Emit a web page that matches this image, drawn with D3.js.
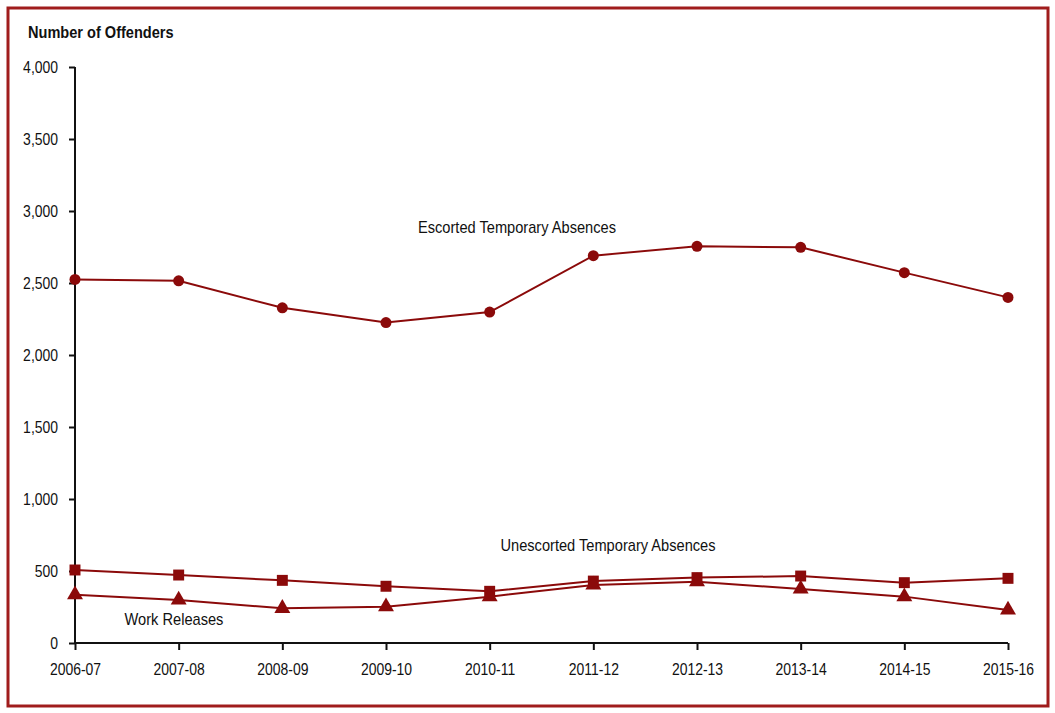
<!DOCTYPE html>
<html>
<head>
<meta charset="utf-8">
<script src="https://cdn.jsdelivr.net/npm/d3@7"></script>
<style>
  body { margin: 0; background: #fff; }
  text { font-family: "Liberation Sans Narrow", "Arial Narrow", "Liberation Sans", Arial, sans-serif; }
</style>
</head>
<body>
<div id="plot"></div>
<script>
var years      = ["2006-07", "2007-08", "2008-09", "2009-10", "2010-11", "2011-12", "2012-13", "2013-14", "2014-15", "2015-16"];
var escorted   = [2525, 2515, 2328, 2225, 2298, 2690, 2755, 2748, 2572, 2400];
var unescorted = [507, 472, 435, 394, 359, 430, 454, 465, 419, 449];
var work       = [335, 299, 241, 252, 322, 403, 426, 375, 322, 229];
var yTicks     = [0, 500, 1000, 1500, 2000, 2500, 3000, 3500, 4000];

var W = 1055, H = 713;
var red = "#8b0a0a";
var margin = {top: 67, right: 47, bottom: 70, left: 75};
var width  = W - margin.left - margin.right,
    height = H - margin.top - margin.bottom;

// no narrow font installed: squeeze the glyphs like Arial Narrow
function narrow(sel, f) {
    sel.each(function() {
        var len = this.getComputedTextLength();
        d3.select(this)
            .attr("textLength", len * f)
            .attr("lengthAdjust", "spacingAndGlyphs");
    });
}

var outer = d3.select("#plot").append("svg")
    .attr("width", W)
    .attr("height", H);

// frame
outer.append("rect")
    .attr("x", 8).attr("y", 8)
    .attr("width", 1040).attr("height", 698)
    .attr("fill", "none")
    .attr("stroke", "#a01c1c")
    .attr("stroke-width", 3);

var inner = outer.append("g")
    .attr("transform", "translate(" + margin.left + "," + margin.top + ")");

var x = d3.scalePoint().domain(years).range([0, 933]);
var y = d3.scaleLinear().domain([0, 4000]).range([height, 0]);

// axes
var axisY = inner.append("g")
    .call(d3.axisLeft(y).tickValues(yTicks).tickSize(6).tickPadding(11).tickFormat(d3.format(",")));
var axisX = inner.append("g")
    .attr("transform", "translate(0," + height + ")")
    .call(d3.axisBottom(x).tickSize(7).tickSizeOuter(0).tickPadding(13));

[axisY, axisX].forEach(function(a) {
    a.select(".domain").attr("stroke", "#111").attr("stroke-width", 2);
    a.selectAll(".tick line").attr("stroke", "#111").attr("stroke-width", 2);
    a.selectAll(".tick text").style("font-size", "17px").attr("fill", "#111")
        .call(narrow, 0.82);
});
axisY.select(".domain").attr("d", "M0," + height + "V0");
axisX.select(".domain").attr("d", "M0,0H" + x(years[years.length - 1]));

// lines
var line = d3.line()
    .x(function(d, i) { return x(years[i]); })
    .y(function(d) { return y(d); });

[escorted, unescorted, work].forEach(function(s) {
    inner.append("path")
        .datum(s)
        .attr("fill", "none")
        .attr("stroke", red)
        .attr("stroke-width", 2)
        .attr("d", line);
});

// markers
inner.selectAll(".dot")
    .data(escorted).enter().append("circle")
    .attr("r", 5.5)
    .attr("fill", red)
    .attr("cx", function(d, i) { return x(years[i]); })
    .attr("cy", function(d) { return y(d); });

var sq = d3.symbol().type(d3.symbolSquare).size(120);
inner.selectAll(".sq")
    .data(unescorted).enter().append("path")
    .attr("d", sq)
    .attr("fill", red)
    .attr("transform", function(d, i) { return "translate(" + x(years[i]) + "," + y(d) + ")"; });

var tri = d3.symbol().type(d3.symbolTriangle).size(110);
inner.selectAll(".tri")
    .data(work).enter().append("path")
    .attr("d", tri)
    .attr("fill", red)
    .attr("transform", function(d, i) { return "translate(" + x(years[i]) + "," + y(d) + ")"; });

// labels
outer.append("text")
    .attr("x", 28).attr("y", 38)
    .style("font-size", "16px")
    .style("font-weight", "bold")
    .attr("fill", "#111")
    .text("Number of Offenders")
    .call(narrow, 0.91);

var labels = [
    {t: "Escorted Temporary Absences", x: 517, y: 233},
    {t: "Unescorted Temporary Absences", x: 608, y: 551},
    {t: "Work Releases", x: 174, y: 625}
];
outer.selectAll(".lab")
    .data(labels).enter().append("text")
    .attr("x", function(d) { return d.x; })
    .attr("y", function(d) { return d.y; })
    .attr("text-anchor", "middle")
    .style("font-size", "17px")
    .attr("fill", "#111")
    .text(function(d) { return d.t; })
    .call(narrow, 0.86);
</script>
</body>
</html>
